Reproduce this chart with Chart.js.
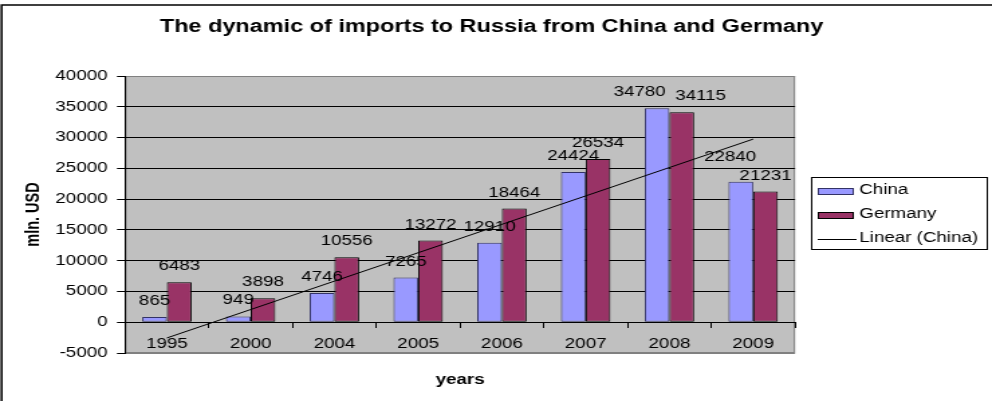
<!DOCTYPE html>
<html>
<head>
<meta charset="utf-8">
<script src="https://cdn.jsdelivr.net/npm/chart.js@4.4.1/dist/chart.umd.min.js"></script>
<style>
  html, body { margin: 0; padding: 0; background: #fff; overflow: hidden; }
  /* the original picture is stretched sideways, so the canvas is too */
  #importsChart { display: block; transform: scaleX(1.3405); transform-origin: 0 0; }
</style>
</head>
<body>
<canvas id="importsChart" width="740" height="401"></canvas>
<script>
// data (mln. USD)
const years = ['1995', '2000', '2004', '2005', '2006', '2007', '2008', '2009'];
const chinaImports = [865, 949, 4746, 7265, 12910, 24424, 34780, 22840];
const germanyImports = [6483, 3898, 10556, 13272, 18464, 26534, 34115, 21231];
// trend line end points as drawn in the picture
const chinaTrend = [-2555, null, null, null, null, null, null, 29750];
const yTicks = { min: -5000, max: 40000, step: 5000 };

const FONT = "'Liberation Sans', Arial, sans-serif";

// grey plot area and the frame round the whole chart
const backgroundPlugin = {
    id: 'background',
    beforeDraw(chart) {
        const { ctx, chartArea: a } = chart;
        ctx.save();
        ctx.fillStyle = '#ffffff';
        ctx.fillRect(0, 0, chart.width, chart.height);
        ctx.strokeStyle = '#000000';
        ctx.lineWidth = 1.5;
        ctx.beginPath();
        ctx.moveTo(1.2, chart.height + 5);
        ctx.lineTo(1.2, 5);
        ctx.lineTo(chart.width + 5, 5);
        ctx.stroke();
        ctx.fillStyle = '#C0C0C0';
        ctx.fillRect(a.left, a.top, a.right - a.left, a.bottom - a.top);
        ctx.strokeStyle = '#808080';
        ctx.lineWidth = 1;
        ctx.strokeRect(a.left + 0.5, a.top + 0.5, a.right - a.left - 1, a.bottom - a.top - 1);
        ctx.restore();
    }
};

// value labels above the bars, a few were moved by hand in the original
const labelNudge = { '0-6': [-13, 0], '1-6': [14, 0], '0-7': [-8, -9] };
const valueLabelPlugin = {
    id: 'valueLabels',
    afterDatasetsDraw(chart) {
        const ctx = chart.ctx;
        ctx.save();
        ctx.font = '14px ' + FONT;
        ctx.fillStyle = '#000000';
        ctx.textAlign = 'center';
        ctx.textBaseline = 'alphabetic';
        chart.data.datasets.forEach((ds, i) => {
            if (ds.type !== 'bar') return;
            chart.getDatasetMeta(i).data.forEach((bar, j) => {
                const n = labelNudge[i + '-' + j] || [0, 0];
                ctx.fillText(String(ds.data[j]), bar.x + n[0], bar.y - 12 + n[1]);
            });
        });
        ctx.restore();
    }
};

// legend with a border, like the spreadsheet one
const boxLegendPlugin = {
    id: 'boxLegend',
    afterDraw(chart) {
        const ctx = chart.ctx;
        const left = 605, top = 177, width = 131, height = 72;
        ctx.save();
        ctx.fillStyle = '#ffffff';
        ctx.fillRect(left, top, width, height);
        ctx.strokeStyle = '#000000';
        ctx.lineWidth = 1;
        ctx.strokeRect(left + 0.5, top + 0.5, width, height);
        ctx.font = '14px ' + FONT;
        ctx.textBaseline = 'alphabetic';
        chart.data.datasets.forEach((ds, i) => {
            const base = 194 + i * 24;
            if (ds.type === 'bar') {
                ctx.fillStyle = ds.backgroundColor;
                ctx.fillRect(610, base - 6, 27, 6);
                ctx.strokeStyle = ds.borderColor;
                ctx.strokeRect(610.5, base - 5.5, 26, 6);
            } else {
                ctx.strokeStyle = ds.borderColor;
                ctx.beginPath();
                ctx.moveTo(610, base - 2.5);
                ctx.lineTo(639, base - 2.5);
                ctx.stroke();
            }
            ctx.fillStyle = '#000000';
            ctx.fillText(ds.label, 641, base);
        });
        ctx.restore();
    }
};

const ctx = document.getElementById('importsChart').getContext('2d');
const importsChart = new Chart(ctx, {
    data: {
        labels: years,
        datasets: [
            {
                type: 'bar',
                label: 'China',
                data: chinaImports,
                backgroundColor: '#9999FF',
                borderColor: '#333366',
                borderWidth: 1,
                borderSkipped: false,
                categoryPercentage: 0.59,
                barPercentage: 1.0,
                order: 1
            },
            {
                type: 'bar',
                label: 'Germany',
                data: germanyImports,
                backgroundColor: '#993366',
                borderColor: '#000000',
                borderWidth: 1,
                borderSkipped: false,
                categoryPercentage: 0.59,
                barPercentage: 1.0,
                order: 1
            },
            {
                type: 'line',
                label: 'Linear (China)',
                data: chinaTrend,
                borderColor: '#000000',
                borderWidth: 1,
                pointRadius: 0,
                fill: false,
                spanGaps: true,
                order: 0
            }
        ]
    },
    options: {
        responsive: false,
        animation: false,
        events: [],
        layout: { padding: { left: 0, top: 0, right: 6.6, bottom: 48 } },
        plugins: {
            legend: { display: false },
            tooltip: { enabled: false },
            title: {
                display: true,
                text: 'The dynamic of imports to Russia from China and Germany',
                color: '#000000',
                font: { family: FONT, size: 17.5, weight: 'bold' },
                padding: { top: 16.5, bottom: 38.5 }
            }
        },
        scales: {
            x: {
                position: { y: 0 },
                offset: true,
                grid: {
                    display: true,
                    offset: true,
                    drawOnChartArea: false,
                    drawTicks: true,
                    tickLength: 5,
                    tickColor: '#000000',
                    color: '#000000'
                },
                border: { display: true, color: '#000000', width: 1 },
                ticks: {
                    color: '#000000',
                    font: { family: FONT, size: 14 },
                    padding: 9,
                    maxRotation: 0,
                    autoSkip: false
                },
                title: {
                    display: true,
                    text: 'years',
                    color: '#000000',
                    font: { family: FONT, size: 14, weight: 'bold' },
                    padding: { top: 10, bottom: 0 }
                }
            },
            y: {
                position: 'left',
                min: yTicks.min,
                max: yTicks.max,
                afterFit(scale) { scale.width = 93.25; },
                grid: {
                    color: c => (c.tick && (c.tick.value === yTicks.min || c.tick.value === yTicks.max)) ? '#808080' : '#000000',
                    lineWidth: 1,
                    drawTicks: true,
                    tickLength: 6,
                    tickColor: '#000000'
                },
                border: { display: true, color: '#000000', width: 1 },
                ticks: {
                    stepSize: yTicks.step,
                    color: '#000000',
                    font: { family: FONT, size: 14 },
                    padding: 7,
                    callback: v => String(v)
                },
                title: {
                    display: true,
                    text: 'mln. USD',
                    color: '#000000',
                    font: { family: FONT, size: 14.5, weight: 'bold' },
                    padding: { top: 16, bottom: 0 }
                }
            },
            // empty axis that only keeps room on the right for the legend
            legendSpace: {
                type: 'linear',
                position: 'right',
                display: true,
                afterFit(scale) { scale.width = 140.3; },
                grid: { display: false, drawTicks: false },
                border: { display: false },
                ticks: { display: false }
            }
        }
    },
    plugins: [backgroundPlugin, valueLabelPlugin, boxLegendPlugin]
});
</script>
</body>
</html>
